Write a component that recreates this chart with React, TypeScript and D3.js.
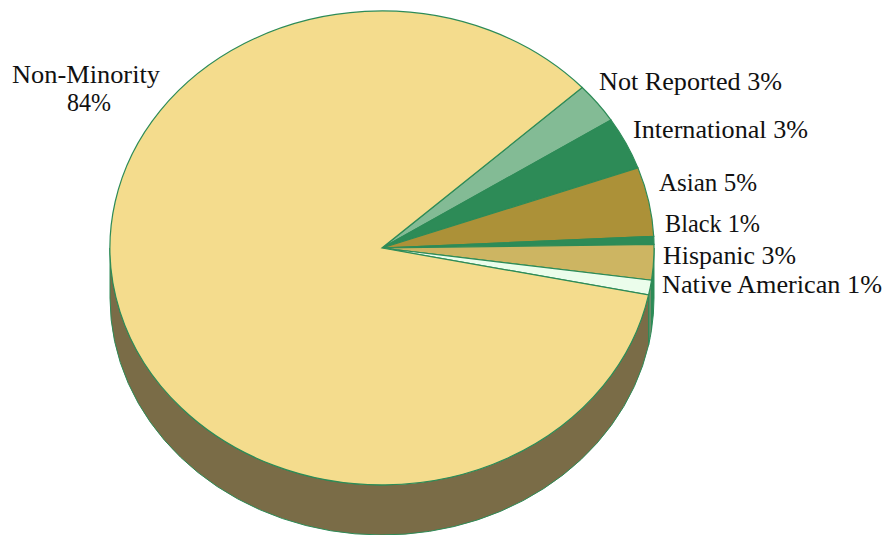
import React from "react";
import * as d3 from "d3";

const categories = ["Not Reported", "International", "Asian", "Black", "Hispanic", "Native American", "Non-Minority", "Non-Minority share"];
const shares = [2.75, 3.6, 4.7, 0.55, 2.4, 1.0, 85.0];
const topColors = ["#83bb95", "#2d8b57", "#ac9138", "#2d8b57", "#cdb562", "#ebfdeb", "#f4dc8d"];
const wallColors = ["#5a8a6a", "#1f6b40", "#7a6c47", "#2d8b57", "#2d8b57", "#6b8f6b", "#7a6c47"];
const labels = ["Not Reported 3%", "International 3%", "Asian 5%", "Black 1%", "Hispanic 3%", "Native American 1%", "Non-Minority", "84%"];
const labelX = [599, 633, 659, 665, 663, 662, 12, 67];
const labelY = [90, 138, 191, 232, 264, 293, 83, 111];
const labelWidth = [183, 175, 98, 95, 133, 220, 148, 44];

const CX = 382, CY = 248, RX = 272, RY = 237, DEPTH = 50;
const FONT = "'Liberation Serif', serif";
const STROKE = "#2d8b57";

export default function App() {
  const startDeg = 47.4;
  const pie = d3.pie<number>().sort(null).value((d) => d)
    .startAngle((startDeg * Math.PI) / 180)
    .endAngle((startDeg * Math.PI) / 180 + 2 * Math.PI);
  const arcs = pie(shares);
  const arc = d3.arc<d3.PieArcDatum<number>>().innerRadius(0).outerRadius(1);
  const px = (a: number) => CX + RX * Math.sin(a);
  const py = (a: number) => CY - RY * Math.cos(a);

  const wall = (a0: number, a1: number) => {
    const s = Math.max(a0, Math.PI / 2);
    const e = Math.min(a1, (3 * Math.PI) / 2);
    if (e <= s) return null;
    const large = e - s > Math.PI ? 1 : 0;
    return `M${px(s)},${py(s)}L${px(s)},${py(s) + DEPTH}A${RX},${RY} 0 ${large} 1 ${px(e)},${py(e) + DEPTH}L${px(e)},${py(e)}A${RX},${RY} 0 ${large} 0 ${px(s)},${py(s)}Z`;
  };

  return (
    <svg width={885} height={535} style={{ position: "absolute", left: 0, top: 0 }}>
      {arcs.map((d, i) => {
        const w = wall(d.startAngle, d.endAngle);
        return w ? <path key={categories[i]} d={w} fill={wallColors[i]} stroke={STROKE} strokeWidth={1} /> : null;
      })}
      <g transform={`translate(${CX},${CY}) scale(${RX},${RY})`}>
        {arcs.map((d, i) => (
          <path key={categories[i]} d={arc(d) as string} fill={topColors[i]} stroke={STROKE} strokeWidth={1.2} vectorEffect="non-scaling-stroke" />
        ))}
      </g>
      {labels.map((t, i) => (
        <text key={categories[i]} x={labelX[i]} y={labelY[i]} textLength={labelWidth[i]} lengthAdjust="spacingAndGlyphs" fontFamily={FONT} fontSize={26} fill="#111">
          {t}
        </text>
      ))}
    </svg>
  );
}
